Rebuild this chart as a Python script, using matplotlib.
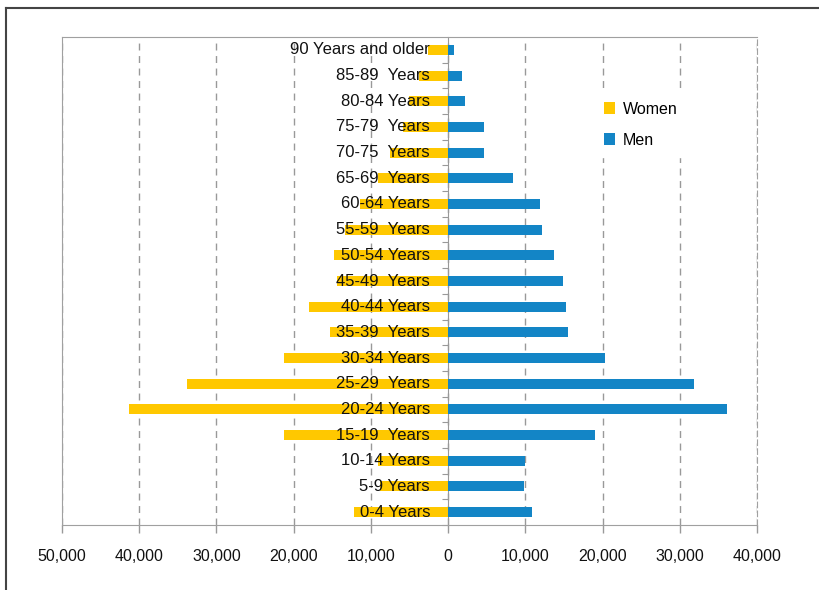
import matplotlib
matplotlib.use("Agg")
import matplotlib.pyplot as plt
from matplotlib import font_manager
from matplotlib.lines import Line2D
from matplotlib.ticker import FuncFormatter

# age groups, bottom to top
groups = ["0-4 Years", "5-9 Years", "10-14 Years", "15-19  Years", "20-24 Years",
          "25-29  Years", "30-34 Years", "35-39  Years", "40-44 Years", "45-49  Years",
          "50-54 Years", "55-59  Years", "60-64 Years", "65-69  Years", "70-75  Years",
          "75-79  Years", "80-84 Years", "85-89  Years", "90 Years and older"]
women = [12250, 8800, 9100, 21300, 41300, 33850, 21300, 15250, 18000, 14400,
         14800, 13300, 11400, 9100, 7500, 5850, 5050, 3800, 2600]
men = [10800, 9800, 10000, 19000, 36100, 31850, 20350, 15500, 15250, 14850,
       13750, 12200, 11900, 8450, 4650, 4600, 2150, 1850, 820]
xticks = [-50000, -40000, -30000, -20000, -10000, 0, 10000, 20000, 30000, 40000]

names = {f.name for f in font_manager.fontManager.ttflist}
if "Liberation Sans Narrow" in names:
    lab_font, lab_size, tick_size = "Liberation Sans Narrow", 14, 12
else:
    lab_font, lab_size, tick_size = "Liberation Sans", 12, 11.5
plt.rcParams['font.family'] = ['Liberation Sans', 'DejaVu Sans']

fig = plt.figure(figsize=(8.2, 5.9), dpi=100)
ax = fig.add_axes([62/820, 1-525/590, (757-62)/820, (525-37)/590])

y = list(range(len(groups)))
ax.barh(y, [-w for w in women], height=0.39, color='#FFC800', label='Women', zorder=3)
ax.barh(y, men, height=0.39, color='#1385C6', label='Men', zorder=3)

for i, g in enumerate(groups):
    ax.annotate(g, (0, i), xytext=(-13, 0), textcoords='offset points', ha='right', va='center',
                fontsize=lab_size, family=lab_font, color='#111111', zorder=5)

ax.set_xlim(-50000, 40000)
ax.set_ylim(-0.5, len(groups) - 0.5)
ax.set_xticks(xticks)
ax.xaxis.set_major_formatter(FuncFormatter(lambda v, p: f"{abs(int(v)):,}"))
for t in ax.get_xticklabels():
    t.set_family(lab_font)
ax.tick_params(axis='x', direction='out', length=6, width=1, color='#999999', pad=11,
               labelsize=tick_size, labelcolor='#111111')
ax.set_yticks([])
ax.grid(axis='x', linestyle=(0, (5, 4)), color='#999999', linewidth=1, zorder=0)
for side in ['top', 'left', 'bottom']:
    ax.spines[side].set_color('#a0a0a0')
ax.spines['right'].set_color('#a0a0a0')
ax.spines['right'].set_linestyle((0, (5, 3)))

# zero axis with category tick marks
zero = ax.secondary_yaxis(50000/90000)
zero.set_yticks([i - 0.5 for i in range(len(groups))])
zero.set_yticklabels([])
zero.tick_params(direction='in', length=4, color='#999999')
for sp in zero.spines.values():
    sp.set_color('#999999')

leg = ax.legend(loc='upper left', bbox_to_anchor=((586-62)/695, 1-(84-37)/488), frameon=True,
                fontsize=11.5, handlelength=0.7, handleheight=0.7, handletextpad=0.5,
                labelspacing=1.0, borderpad=0.6, fancybox=False)
leg.get_frame().set_edgecolor('white')
leg.get_frame().set_facecolor('white')
leg.get_frame().set_alpha(1)
leg.set_zorder(6)

fig.add_artist(Line2D([6/820, 1], [1-8/590, 1-8/590], color='#444444', linewidth=1.5))
fig.add_artist(Line2D([6/820, 6/820], [0, 1-8/590], color='#444444', linewidth=1.5))

fig.savefig('out.png', dpi=100)
